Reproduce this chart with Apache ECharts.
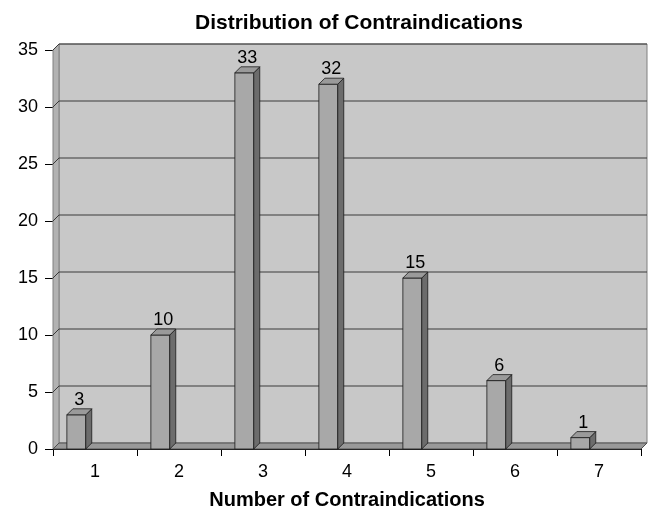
<!DOCTYPE html>
<html>
<head>
<meta charset="UTF-8">
<title>Distribution of Contraindications</title>
<script src="https://cdn.jsdelivr.net/npm/echarts@6/dist/echarts.min.js"></script>
</head>
<body style="margin:0">
<div id="chart" style="width:652px;height:508px"></div>
<script>
    // data
    var categories = ['1', '2', '3', '4', '5', '6', '7'];
    var counts = [3, 10, 33, 32, 15, 6, 1];
    var yMin = 0, yMax = 35, yStep = 5;

    var D = 6; // fake 3D depth in px
    var font = 'Liberation Sans, Arial, sans-serif';

    var chart = echarts.init(document.getElementById('chart'));

    // back wall, left wall, floor and gridlines
    function renderWalls(params, api) {
        var bw = api.size([1, 0])[0];
        var x0 = api.coord([0, yMin])[0] - bw / 2;
        var x1 = api.coord([categories.length - 1, yMin])[0] + bw / 2;
        var yb = api.coord([0, yMin])[1];
        var yt = api.coord([0, yMax])[1];
        var kids = [];
        // back wall
        kids.push({
            type: 'rect',
            shape: {x: x0 + D, y: yt - D, width: x1 - x0, height: yb - yt},
            style: {fill: '#c8c8c8', stroke: '#808080', lineWidth: 1}
        });
        // left wall
        kids.push({
            type: 'polygon',
            shape: {points: [[x0, yt], [x0 + D, yt - D], [x0 + D, yb - D], [x0, yb]]},
            style: {fill: '#b2b2b2', stroke: '#808080', lineWidth: 1}
        });
        // gridlines
        for (var v = yMin + yStep; v <= yMax; v += yStep) {
            var y = api.coord([0, v])[1];
            kids.push({
                type: 'polyline',
                shape: {points: [[x0, y], [x0 + D, y - D], [x1 + D, y - D]]},
                style: {stroke: '#3a3a3a', lineWidth: 1, fill: null}
            });
        }
        // floor
        kids.push({
            type: 'polygon',
            shape: {points: [[x0, yb], [x0 + D, yb - D], [x1 + D, yb - D], [x1, yb]]},
            style: {fill: '#999999', stroke: '#505050', lineWidth: 1}
        });
        return {type: 'group', children: kids};
    }

    // 3D looking bars
    function renderBar(params, api) {
        var idx = api.value(0);
        var val = api.value(1);
        var bw = api.size([1, 0])[0];
        var base = api.coord([idx, yMin]);
        var top = api.coord([idx, val]);
        var w = bw * 0.225;
        var left = base[0] - bw * 0.335;
        var right = left + w;
        var yb = base[1], yt = top[1];
        var st = {stroke: '#1a1a1a', lineWidth: 0.8};
        return {
            type: 'group',
            children: [
                {
                    type: 'rect',
                    shape: {x: left, y: yt, width: w, height: yb - yt},
                    style: Object.assign({fill: '#a8a8a8'}, st)
                },
                {
                    type: 'polygon',
                    shape: {points: [[right, yt], [right + D, yt - D], [right + D, yb - D], [right, yb]]},
                    style: Object.assign({fill: '#6c6c6c'}, st)
                },
                {
                    type: 'polygon',
                    shape: {points: [[left, yt], [left + D, yt - D], [right + D, yt - D], [right, yt]]},
                    style: Object.assign({fill: '#9a9a9a'}, st)
                },
                {
                    type: 'text',
                    style: {
                        x: left + (w + D) / 2,
                        y: yt - D,
                        text: String(val),
                        fill: '#000',
                        font: '18px ' + font,
                        textAlign: 'center',
                        textVerticalAlign: 'bottom'
                    }
                }
            ]
        };
    }

    var option = {
        animation: false,
        backgroundColor: '#fff',
        title: {
            text: 'Distribution of Contraindications',
            left: 190,
            top: 8,
            textStyle: {fontFamily: font, fontSize: 21, fontWeight: 'bold', color: '#000'}
        },
        grid: {left: 53, right: 11, top: 50, bottom: 59, containLabel: false, outerBoundsMode: 'none'},
        xAxis: {
            type: 'category',
            data: categories,
            axisLine: {lineStyle: {color: '#000', width: 1}},
            axisTick: {show: true, length: 7, lineStyle: {color: '#000'}},
            axisLabel: {color: '#000', fontSize: 18, fontFamily: font, margin: 14},
            name: 'Number of Contraindications',
            nameLocation: 'middle',
            nameGap: 41,
            nameTextStyle: {color: '#000', fontSize: 20, fontWeight: 'bold', fontFamily: font}
        },
        yAxis: {
            type: 'value',
            min: yMin,
            max: yMax,
            interval: yStep,
            axisLine: {show: true, lineStyle: {color: '#000', width: 1}},
            axisTick: {show: true, length: 8, lineStyle: {color: '#000'}},
            axisLabel: {color: '#000', fontSize: 18, fontFamily: font, margin: 15},
            splitLine: {show: false}
        },
        series: [
            {
                type: 'custom',
                renderItem: renderWalls,
                data: [[0, 0]],
                z: 1,
                silent: true
            },
            {
                type: 'custom',
                renderItem: renderBar,
                data: counts.map(function (c, i) { return [i, c]; }),
                encode: {x: 0, y: 1},
                z: 2
            }
        ]
    };

    chart.setOption(option);
</script>
</body>
</html>
